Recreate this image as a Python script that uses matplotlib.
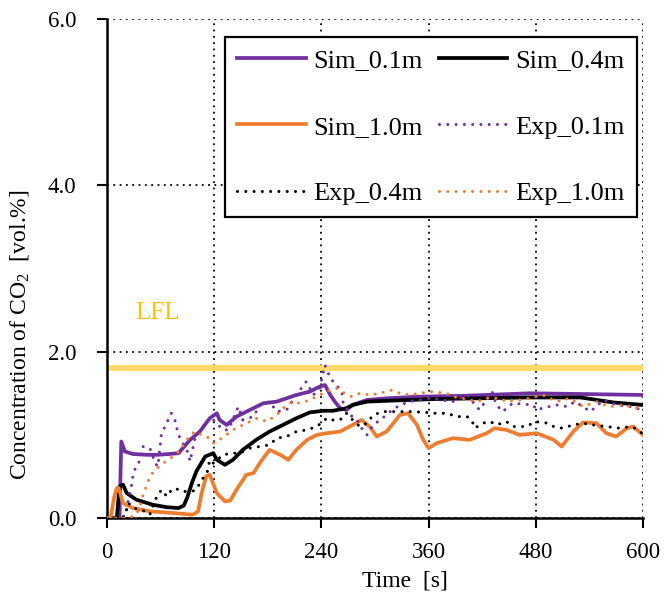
import numpy as np
import matplotlib
matplotlib.use('Agg')
import matplotlib.pyplot as plt

plt.rcParams['font.family'] = ['Liberation Serif', 'DejaVu Serif']
plt.rcParams['mathtext.fontset'] = 'custom'
plt.rcParams['mathtext.rm'] = 'Liberation Serif'

# simulated concentrations (time [s], vol.%)
sim01_t = [0, 14, 16, 20, 29, 45, 56, 70, 80, 93, 104, 115, 123, 126, 134, 145, 160, 175,
           190, 212, 227, 238, 244, 250, 255, 261, 268, 275, 291, 313, 350, 400, 473, 540, 600]
sim01_c = [0, 0, 0.92, 0.80, 0.77, 0.76, 0.76, 0.77, 0.78, 0.94, 1.04, 1.20, 1.26, 1.18, 1.12,
           1.22, 1.30, 1.38, 1.40, 1.48, 1.52, 1.58, 1.60, 1.48, 1.40, 1.32, 1.30, 1.36, 1.42,
           1.44, 1.46, 1.47, 1.50, 1.49, 1.48]

sim04_t = [0, 11, 14, 18, 22, 33, 51, 67, 80, 86, 90, 95, 100, 110, 119, 123, 132, 141, 152,
           167, 182, 197, 212, 227, 242, 253, 268, 275, 291, 313, 365, 470, 530, 567, 600]
sim04_c = [0, 0, 0.38, 0.40, 0.30, 0.22, 0.16, 0.13, 0.12, 0.15, 0.25, 0.42, 0.56, 0.74, 0.78,
           0.70, 0.64, 0.70, 0.82, 0.94, 1.04, 1.12, 1.20, 1.27, 1.29, 1.29, 1.32, 1.36, 1.40,
           1.41, 1.43, 1.45, 1.45, 1.39, 1.36]

sim10_t = [0, 4, 8, 11, 13, 18, 29, 48, 74, 96, 102, 106, 111, 115, 123, 132, 138, 145, 156,
           164, 171, 182, 194, 203, 212, 224, 235, 246, 261, 275, 285, 294, 302, 313, 328, 337,
           347, 354, 360, 369, 387, 406, 425, 434, 447, 462, 481, 500, 509, 522, 533, 548, 559,
           570, 582, 589, 600]
sim10_c = [0, 0, 0.25, 0.36, 0.36, 0.18, 0.12, 0.08, 0.06, 0.04, 0.08, 0.30, 0.50, 0.52, 0.30,
           0.20, 0.21, 0.34, 0.52, 0.54, 0.66, 0.82, 0.76, 0.70, 0.82, 0.94, 1.00, 1.02, 1.04,
           1.12, 1.18, 1.10, 0.98, 1.04, 1.24, 1.26, 1.12, 0.94, 0.84, 0.90, 0.96, 0.94, 1.02,
           1.08, 1.06, 1.00, 1.02, 0.94, 0.86, 1.04, 1.15, 1.14, 1.02, 0.98, 1.08, 1.10, 1.00]

# measured concentrations
exp01_t = [0, 10, 20, 24, 27, 29, 31, 35, 40, 48, 54, 57, 61, 65, 72, 76, 80, 85, 91, 93, 98,
           104, 111, 117, 119, 130, 136, 147, 152, 164, 171, 182, 190, 201, 212, 223, 231, 238,
           244, 250, 255, 263, 264, 272, 280, 285, 291, 298, 306, 317, 328, 339, 350, 362, 387,
           403, 417, 431, 436, 443, 454, 477, 481, 487, 503, 515, 524, 541, 556, 571, 586, 599]
exp01_c = [0, 0, 0.02, 0.22, 0.36, 0.50, 0.58, 0.64, 0.86, 0.84, 0.66, 0.62, 1.02, 1.10, 1.26,
           1.18, 1.00, 0.90, 0.78, 0.68, 0.94, 1.06, 1.14, 1.22, 1.18, 1.06, 1.06, 1.34, 1.18,
           1.22, 1.36, 1.40, 1.28, 1.30, 1.48, 1.64, 1.48, 1.56, 1.84, 1.68, 1.62, 1.52, 1.40,
           1.24, 1.18, 1.08, 1.00, 1.12, 1.18, 1.28, 1.36, 1.40, 1.42, 1.44, 1.40, 1.48, 1.30,
           1.52, 1.36, 1.28, 1.38, 1.36, 1.30, 1.32, 1.36, 1.34, 1.40, 1.28, 1.42, 1.36, 1.34, 1.30]

exp04_t = [0, 10, 20, 24, 29, 39, 48, 54, 61, 67, 71, 76, 84, 95, 100, 106, 112, 115, 119, 130,
           140, 149, 160, 171, 182, 190, 201, 212, 224, 235, 246, 250, 261, 268, 275, 283, 291,
           298, 309, 324, 339, 358, 365, 380, 392, 403, 408, 412, 420, 429, 436, 447, 455, 470,
           479, 494, 500, 510, 522, 533, 544, 559, 574, 586, 593, 600]
exp04_c = [0, 0, 0.02, 0.18, 0.12, 0.10, 0.04, 0.22, 0.34, 0.26, 0.32, 0.36, 0.32, 0.32, 0.34,
           0.46, 0.54, 0.70, 0.66, 0.76, 0.78, 0.78, 0.84, 0.86, 0.88, 0.96, 0.98, 1.04, 1.06,
           1.10, 1.20, 1.18, 1.18, 1.26, 1.18, 1.10, 1.14, 1.24, 1.28, 1.28, 1.28, 1.27, 1.26,
           1.26, 1.22, 1.22, 1.18, 1.08, 1.14, 1.16, 1.12, 1.16, 1.10, 1.10, 1.16, 1.14, 1.10,
           1.08, 1.12, 1.14, 1.12, 1.10, 1.08, 1.10, 1.07, 1.01]

exp10_t = [0, 10, 20, 30, 36, 40, 44, 48, 54, 61, 68, 74, 82, 87, 91, 98, 106, 112, 119, 126,
           141, 156, 168, 179, 190, 201, 208, 216, 227, 238, 250, 257, 266, 274, 283, 294, 306,
           317, 328, 339, 350, 362, 380, 387, 398, 414, 425, 440, 447, 462, 473, 488, 503, 518,
           533, 548, 563, 578, 593, 600]
exp10_c = [0, 0, 0, 0.02, 0.10, 0.26, 0.38, 0.50, 0.58, 0.64, 0.70, 0.74, 0.82, 0.90, 0.96,
           1.04, 1.00, 0.98, 0.90, 0.94, 1.06, 1.14, 1.20, 1.16, 1.24, 1.36, 1.40, 1.38, 1.42,
           1.48, 1.54, 1.56, 1.50, 1.46, 1.50, 1.48, 1.50, 1.54, 1.50, 1.48, 1.50, 1.52, 1.50,
           1.46, 1.44, 1.40, 1.44, 1.44, 1.40, 1.42, 1.44, 1.48, 1.40, 1.44, 1.34, 1.40, 1.34,
           1.36, 1.32, 1.30]

lfl = 1.8
x_ticks = [0, 120, 240, 360, 480, 600]
y_ticks = [0.0, 2.0, 4.0, 6.0]

purple = '#7030A0'
orange = '#ED7D31'
dotted = dict(linestyle=(0, (0.01, 2.7)), dash_capstyle='round', linewidth=2.2)

fig = plt.figure(figsize=(6.67, 5.99), dpi=100)
ax = fig.add_axes([0.1604, 0.1352, 0.8036, 0.8328])

ax.axhline(lfl, color='#FFD966', linewidth=4.2, zorder=2)
ax.text(56, 2.46, 'LFL', color='#FFC000', fontsize=18, ha='center', va='center')

h_s01, = ax.plot(sim01_t, sim01_c, color=purple, lw=2.7, label='Sim_0.1m', zorder=3)
h_s04, = ax.plot(sim04_t, sim04_c, color='black', lw=2.7, label='Sim_0.4m', zorder=3)
h_s10, = ax.plot(sim10_t, sim10_c, color=orange, lw=2.7, label='Sim_1.0m', zorder=3)
h_e01, = ax.plot(exp01_t, exp01_c, color=purple, label='Exp_0.1m', zorder=4, **dotted)
h_e04, = ax.plot(exp04_t, exp04_c, color='black', label='Exp_0.4m', zorder=4, **dotted)
h_e10, = ax.plot(exp10_t, exp10_c, color=orange, label='Exp_1.0m', zorder=4, **dotted)

ax.set_xlim(0, 600)
ax.set_ylim(0, 6)
ax.set_xticks(x_ticks)
ax.set_yticks(y_ticks)
ax.set_yticklabels([f'{v:.1f}' for v in y_ticks])
ax.tick_params(direction='out', length=7, width=1.5, labelsize=16.5)
ax.tick_params(axis='x', pad=10)
ax.tick_params(axis='y', pad=15)
ax.grid(True, color='black', linestyle=(0, (1, 2.5)), linewidth=1.3, zorder=1)
ax.set_axisbelow(True)
for side in ['top', 'right']:
    ax.spines[side].set_visible(False)
for side in ['left', 'bottom']:
    ax.spines[side].set_linewidth(1.8)

ax.set_xlabel('Time  [s]', fontsize=17)
ax.set_ylabel(r'Concentration of CO$\mathregular{_2}$  [vol.%]', fontsize=17)
ax.xaxis.set_label_coords(0.556, -0.106)
ax.yaxis.set_label_coords(-0.142, 0.367)

# legend filled row by row: matplotlib fills columns, so reorder the handles
handles = [h_s01, h_s10, h_e04, h_s04, h_e01, h_e10]
leg = ax.legend(handles=handles, labels=[h.get_label() for h in handles], ncol=2,
                loc='upper right', bbox_to_anchor=(0.988, 0.964), fontsize=19,
                frameon=True, fancybox=False, edgecolor='black', framealpha=1,
                handlelength=2.6, labelspacing=1.62, columnspacing=0.6,
                handletextpad=0.3, borderpad=0.45, borderaxespad=0)
leg.get_frame().set_linewidth(1.6)

fig.savefig('out.png', dpi=100)
